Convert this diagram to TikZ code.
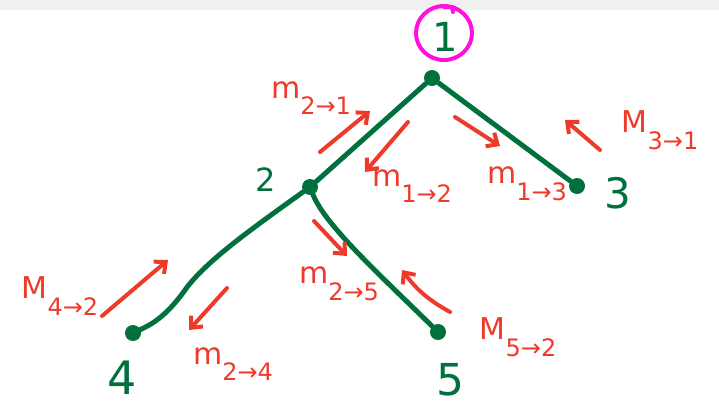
\documentclass[tikz,border=0pt]{standalone}
\usepackage{fontspec}
\setmainfont{DejaVu Sans}
\usetikzlibrary{arrows.meta}
\definecolor{tgreen}{HTML}{00703C}
\definecolor{tred}{HTML}{EE3A2A}
\definecolor{tmag}{HTML}{FF10DD}
\newcommand{\msgl}[2]{#1\raisebox{-0.55em}{\fontsize{24}{24}\selectfont #2}}
\begin{document}
\begin{tikzpicture}[x=1pt,y=-1pt,
  edge/.style={tgreen,line width=5pt,line cap=round},
  vdot/.style={circle,fill=tgreen,inner sep=0pt,minimum size=16pt},
  vlab/.style={tgreen,inner sep=0pt},
  msg/.style={tred,line width=4pt,line cap=round,-{Straight Barb[length=9pt,width=16pt,line width=4pt]}},
  mlab/.style={tred,inner sep=0pt,font=\fontsize{30}{30}\selectfont}]
\useasboundingbox (0,0) rectangle (719,408);
\fill[gray!12] (0,0) rectangle (719,10);
% vertices
\node[vdot] (n1) at (432,78) {};
\node[vdot] (n2) at (310,187) {};
\node[vdot] (n3) at (577,186) {};
\node[vdot] (n4) at (133,333) {};
\node[vdot] (n5) at (438,332) {};
% vertex labels
\node[vlab,font=\fontsize{40}{40}\selectfont] (l1) at (445,37) {1};
\node[vlab,font=\fontsize{32}{32}\selectfont] (l2) at (266,180) {2};
\node[vlab,font=\fontsize{42}{42}\selectfont] (l3) at (618,193) {3};
\node[vlab,font=\fontsize{46}{46}\selectfont] (l4) at (122,378) {4};
\node[vlab,font=\fontsize{44}{44}\selectfont] (l5) at (450,380) {5};
\draw[tmag,line width=4pt] (444,33) ellipse [x radius=28pt,y radius=27pt];
\draw[tmag,line width=4pt,line cap=round] (444,7) -- (452,7) -- (453,12);
% edges
\draw[edge] (n1) -- (n2);
\draw[edge] (n1) -- (n3);
\draw[edge] (n2) .. controls (250,230) and (205,262) .. (185,290) .. controls (165,318) and (150,325) .. (n4);
\draw[edge] (n2) .. controls (325,225) and (380,275) .. (n5);
% message arrows
\coordinate (a21s) at (320,152); \coordinate (a21e) at (370,111);
\coordinate (a12s) at (408,122); \coordinate (a12e) at (365,172);
\coordinate (a13s) at (455,117); \coordinate (a13e) at (500,146);
\coordinate (a31s) at (600,150); \coordinate (a31e) at (565,120);
\coordinate (a42s) at (102,316); \coordinate (a42e) at (168,260);
\coordinate (a24s) at (227,288); \coordinate (a24e) at (189,330);
\coordinate (a25s) at (314,221); \coordinate (a25e) at (347,256);
\coordinate (a52s) at (450,312); \coordinate (a52e) at (402,270);
\draw[msg] (a21s) -- (a21e);
\draw[msg] (a12s) -- (a12e);
\draw[msg] (a13s) -- (a13e);
\draw[msg] (a31s) -- (a31e);
\draw[msg] (a42s) -- (a42e);
\draw[msg] (a24s) -- (a24e);
\draw[msg] (a25s) -- (a25e);
\draw[msg] (a52s) to[bend left=12] (a52e);
% message labels
\node[mlab] (m21) at (311,98) {\msgl{m}{2→1}};
\node[mlab] (m12) at (412,186) {\msgl{m}{1→2}};
\node[mlab] (m13) at (527,184) {\msgl{m}{1→3}};
\node[mlab] (m31) at (660,130) {\msgl{M}{3→1}};
\node[mlab] (m42) at (60,296) {\msgl{M}{4→2}};
\node[mlab] (m24) at (233,364) {\msgl{m}{2→4}};
\node[mlab] (m25) at (339,284) {\msgl{m}{2→5}};
\node[mlab] (m52) at (518,337) {\msgl{M}{5→2}};
\end{tikzpicture}
\end{document}
